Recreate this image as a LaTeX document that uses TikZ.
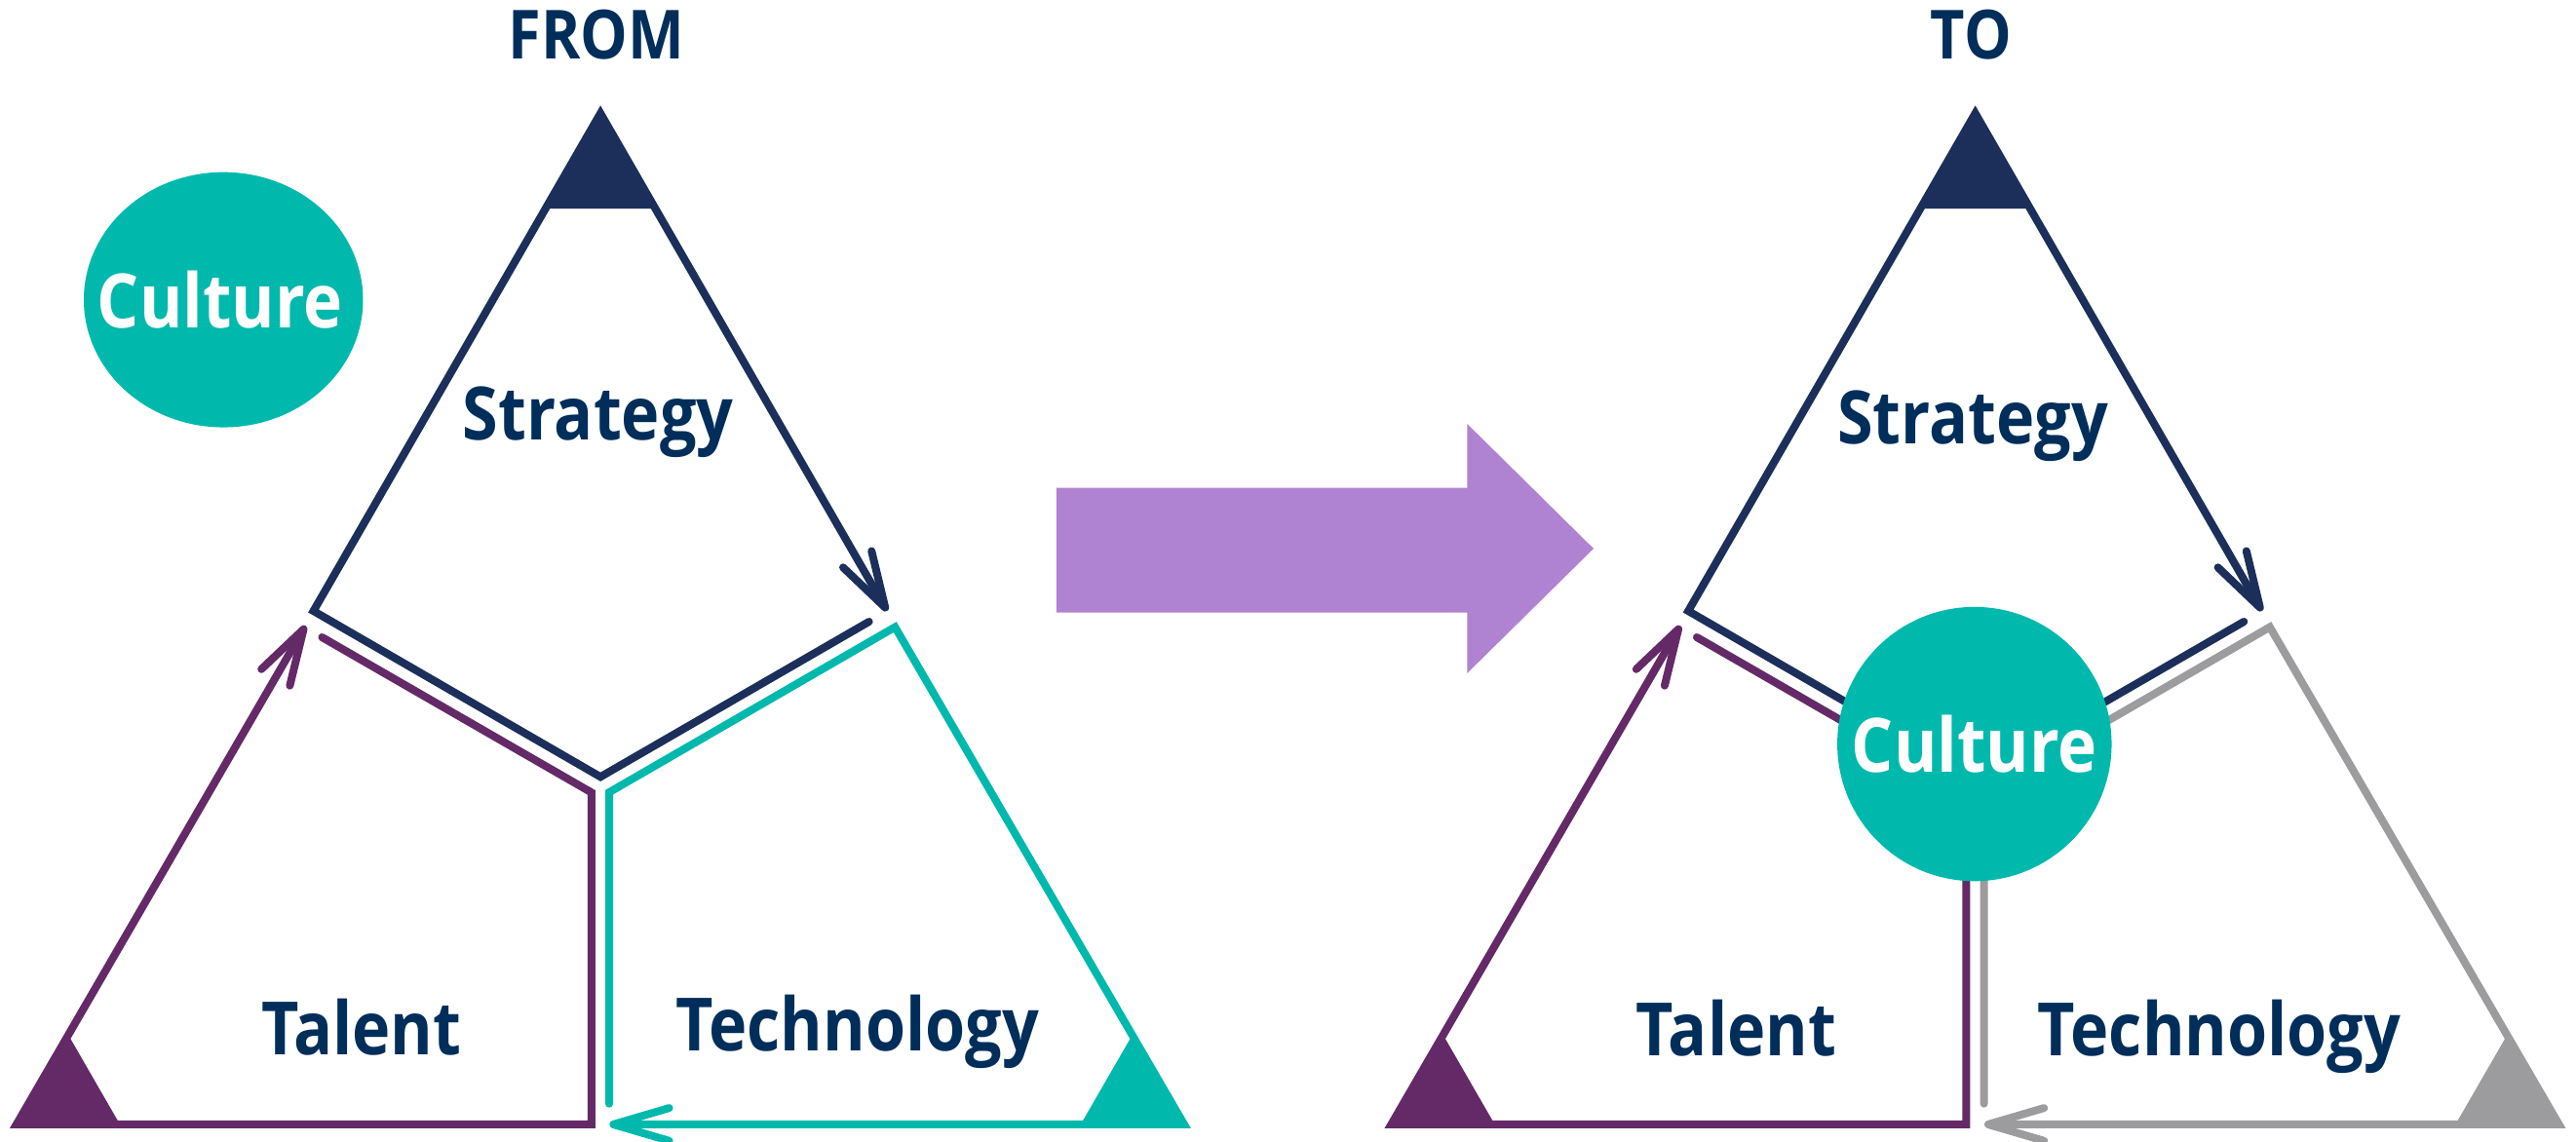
\documentclass[tikz,border=0pt]{standalone}
\usepackage{fontspec}
\setmainfont{Open Sans}[FakeStretch=0.88, UprightFont=* Semibold, BoldFont=* Bold]
\usetikzlibrary{arrows.meta}

\definecolor{navyline}{HTML}{1C2F5B}
\definecolor{navytext}{HTML}{002E5A}
\definecolor{talentcol}{HTML}{642A67}
\definecolor{techcol}{HTML}{00B9AC}
\definecolor{greycol}{HTML}{9C9C9F}
\definecolor{shiftcol}{HTML}{B083D2}

\begin{document}
\begin{tikzpicture}[x=0.02cm, y=-0.02cm,
    frame/.style={line width=2.7pt, line cap=round, line join=miter},
    barb/.style={-{Straight Barb[length=6.8mm, width=4mm, round]}},
    title/.style={text=navytext, anchor=base, font=\bfseries\fontsize{23.5}{28}\selectfont},
    label/.style={text=navytext, anchor=base, font=\bfseries\fontsize{25.5}{30}\selectfont},
    culture/.style={text=white, inner sep=0pt, font=\bfseries\fontsize{26}{31}\selectfont}]
  \useasboundingbox (0,0) rectangle (1568,695);

  % FROM side
  \node[title] (from) at (363,36) {FROM};

  \coordinate (sApexL) at (365.5,69);
  \coordinate (sLeftL) at (190.8,372);
  \coordinate (sTipL) at (540,372);
  \coordinate (sMidL) at (365.5,473);
  \coordinate (sEndL) at (529,378.5);
  \draw[frame, navyline, barb] (sEndL) -- (sMidL) -- (sLeftL) -- (sApexL) -- (sTipL);
  \fill[navyline] (sApexL) -- ++(-33.5,58) -- ++(67,0) -- cycle;

  \coordinate (tStartL) at (196,388);
  \coordinate (tBendL) at (360,482.5);
  \coordinate (tFootL) at (360,684.6);
  \coordinate (tCornerL) at (10,684.6);
  \coordinate (tTipL) at (186,381);
  \draw[frame, talentcol, barb] (tStartL) -- (tBendL) -- (tFootL) -- (tCornerL) -- (tTipL);
  \fill[talentcol] (tCornerL) -- ++(31.5,-54.6) -- ++(31.5,54.6) -- cycle;

  \coordinate (cStartL) at (370.8,672);
  \coordinate (cBendL) at (370.8,482.4);
  \coordinate (cTopL) at (544.8,381.8);
  \coordinate (cCornerL) at (720.8,684.6);
  \coordinate (cTipL) at (371,684.6);
  \draw[frame, techcol, barb] (cStartL) -- (cBendL) -- (cTopL) -- (cCornerL) -- (cTipL);
  \fill[techcol] (cCornerL) -- ++(-31.5,-54.6) -- ++(-31.5,54.6) -- cycle;

  \node[label] (strategyL) at (364,268) {Strategy};
  \node[label] (talentL) at (220,642) {Talent};
  \node[label] (technologyL) at (522,640) {Technology};
  \fill[techcol] (136,182.5) ellipse [x radius=1.7cm, y radius=1.554cm];
  \node[culture] (cultureL) at (134,182.5) {Culture};

  % the shift
  \fill[shiftcol] (643,297) -- (893,297) -- (893,258) -- (970,334) -- (893,410) -- (893,373) -- (643,373) -- cycle;

  % TO side
  \begin{scope}[xshift=16.74cm]
    \node[title] (to) at (363,36) {TO};

    \coordinate (sApexR) at (365.5,69);
    \coordinate (sLeftR) at (190.8,372);
    \coordinate (sTipR) at (540,372);
    \coordinate (sMidR) at (365.5,473);
    \coordinate (sEndR) at (529,378.5);
    \draw[frame, navyline, barb] (sEndR) -- (sMidR) -- (sLeftR) -- (sApexR) -- (sTipR);
    \fill[navyline] (sApexR) -- ++(-33.5,58) -- ++(67,0) -- cycle;

    \coordinate (tStartR) at (196,388);
    \coordinate (tBendR) at (360,482.5);
    \coordinate (tFootR) at (360,684.6);
    \coordinate (tCornerR) at (10,684.6);
    \coordinate (tTipR) at (186,381);
    \draw[frame, talentcol, barb] (tStartR) -- (tBendR) -- (tFootR) -- (tCornerR) -- (tTipR);
    \fill[talentcol] (tCornerR) -- ++(31.5,-54.6) -- ++(31.5,54.6) -- cycle;

    \coordinate (cStartR) at (370.8,672);
    \coordinate (cBendR) at (370.8,482.4);
    \coordinate (cTopR) at (544.8,381.8);
    \coordinate (cCornerR) at (720.8,684.6);
    \coordinate (cTipR) at (371,684.6);
    \draw[frame, greycol, barb] (cStartR) -- (cBendR) -- (cTopR) -- (cCornerR) -- (cTipR);
    \fill[greycol] (cCornerR) -- ++(-31.5,-54.6) -- ++(-31.5,54.6) -- cycle;

    \node[label] (strategyR) at (364,270) {Strategy};
    \node[label] (talentR) at (220,643) {Talent};
    \node[label] (technologyR) at (514,643) {Technology};
    \node[culture, circle, fill=techcol, minimum size=3.34cm] (cultureR) at (365,453) {Culture};
  \end{scope}
\end{tikzpicture}
\end{document}
